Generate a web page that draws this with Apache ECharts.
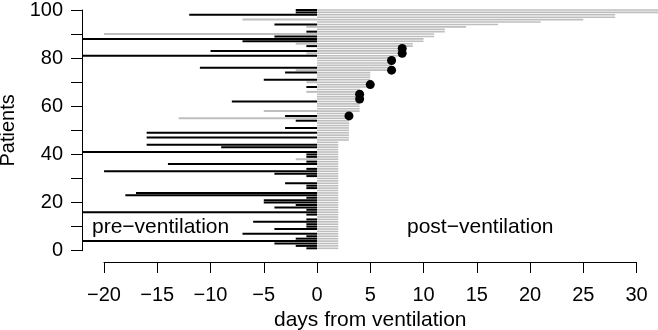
<!DOCTYPE html>
<html>
<head>
<meta charset="utf-8">
<script src="https://cdn.jsdelivr.net/npm/echarts@6/dist/echarts.min.js"></script>
<style>
  html, body { margin: 0; padding: 0; background: #fff; }
  #chart { width: 658px; height: 330px; }
</style>
</head>
<body>
<div id="chart"></div>
<script>
// patients 1..100, bottom to top
const patients = [];
for (let i = 1; i <= 100; i++) patients.push(i);

// days on ventilation (post)
const postDays = [
  2, 2, 2, 2, 2, 2, 2, 2, 2, 2,
  2, 2, 2, 2, 2, 2, 2, 2, 2, 2,
  2, 2, 2, 2, 2, 2, 2, 2, 2, 2,
  2, 2, 2, 2, 2, 2, 2, 2, 2, 2,
  2, 2, 2, 2, 2, 3, 3, 3, 3, 3,
  3, 3, 3, 3, 3, 3, 3, 4, 4, 4,
  4, 4, 4, 4, 4, 4, 4, 5, 5, 5,
  5, 5, 5, 5, 7, 7, 7, 7, 7, 7,
  8, 8, 8, 8, 9, 9, 10, 10, 11, 11,
  12, 12, 14, 17, 21, 25, 28, 28, 33, 35
];

// days before ventilation, black segments (null = none)
const preBlack = [
  -1, -2, -4, -25, -2, -1, -7, null, -4, -1,
  -1, -6, -1, null, -1, -25, -1, -4, -2, -5,
  -5, -1, -18, -17, null, -1, -1, -3, null, null,
  -1, -4, -20, -1, null, -14, -1, null, -1, -1,
  -25, null, -9, -16, null, null, -16, null, -16, null,
  -3, null, null, -2, null, -3, null, null, null, null,
  null, -8, null, null, null, null, null, -1, null, null,
  -5, null, null, -3, null, -11, null, null, null, null,
  -25, null, -10, null, -1, null, -7, -25, -4, null,
  -1, null, null, -4, null, null, null, -12, -2, -2
];

// days before ventilation, grey segments
const preGrey = [
  null, null, null, null, null, null, null, null, null, null,
  null, null, null, null, null, null, null, null, null, null,
  null, null, null, null, null, null, null, null, null, null,
  null, null, null, null, null, null, null, -2, null, null,
  null, null, null, null, null, null, null, null, null, null,
  null, null, null, null, -13, null, null, -5, null, null,
  null, null, null, null, null, -1, null, null, null, -1,
  null, null, null, null, -2, null, null, null, null, null,
  null, -1, null, null, null, -2, null, null, null, -20,
  null, null, -1, null, null, -7, null, null, null, null
];

// patients who died (dot at end of ventilation)
const died = [56, 63, 65, 69, 75, 79, 82, 84];

const xTicks = { min: -20, max: 30, step: 5 };
const yTicks = { min: 0, max: 100, step: 10, labelStep: 20 };

const FONT = 'Liberation Sans';
const GREY = '#bebebe';

function toPairs(vals) {
  const out = [];
  vals.forEach((v, i) => { if (v !== null) out.push([v, patients[i]]); });
  return out;
}

function segment(color, width) {
  return function (params, api) {
    const p = api.value(1);
    const a = api.coord([0, p]);
    const b = api.coord([api.value(0), p]);
    return {
      type: 'line',
      shape: { x1: a[0], y1: a[1], x2: b[0], y2: b[1] },
      style: { stroke: color, lineWidth: width }
    };
  };
}

const minus = v => (v < 0 ? '\u2212' + Math.abs(v) : String(v));

const chart = echarts.init(document.getElementById('chart'));

const option = {
  animation: false,
  textStyle: { fontFamily: FONT },
  grid: [
    // data area (plot region)
    { left: 82, right: 0, top: 0, bottom: 68, outerBoundsMode: 'none' },
    // axes only, spanning the tick range
    { left: 104, right: 21.5, top: 10, bottom: 79.3, outerBoundsMode: 'none' }
  ],
  xAxis: [
    { gridIndex: 0, type: 'value', min: -22.07, max: 32.02, show: false },
    {
      gridIndex: 1, type: 'value', min: xTicks.min, max: xTicks.max, interval: xTicks.step,
      offset: 11.3,
      axisLine: { show: true, onZero: false, lineStyle: { color: '#000', width: 1 } },
      axisTick: { show: true, length: 11, lineStyle: { color: '#000' } },
      axisLabel: { color: '#000', fontSize: 20, margin: 23, formatter: minus },
      splitLine: { show: false },
      name: 'days from ventilation', nameLocation: 'middle', nameGap: 47,
      nameTextStyle: { color: '#000', fontSize: 21 }
    }
  ],
  yAxis: [
    { gridIndex: 0, type: 'value', min: -4.69, max: 104.15, show: false },
    {
      gridIndex: 1, type: 'value', min: yTicks.min, max: yTicks.max, interval: yTicks.step,
      offset: 22,
      axisLine: { show: true, onZero: false, lineStyle: { color: '#000', width: 1 } },
      axisTick: { show: true, length: 11, lineStyle: { color: '#000' } },
      axisLabel: {
        color: '#000', fontSize: 20, margin: 19,
        formatter: v => (v % yTicks.labelStep === 0 ? String(v) : '')
      },
      splitLine: { show: false },
      name: 'Patients', nameLocation: 'middle', nameGap: 61, nameRotate: 90,
      nameTextStyle: { color: '#000', fontSize: 20 }
    }
  ],
  series: [
    {
      type: 'custom', xAxisIndex: 0, yAxisIndex: 0, clip: true,
      renderItem: segment(GREY, 1.6),
      encode: { x: 0, y: 1 },
      data: postDays.map((v, i) => [v, patients[i]])
    },
    {
      type: 'custom', xAxisIndex: 0, yAxisIndex: 0, clip: true,
      renderItem: segment(GREY, 2),
      encode: { x: 0, y: 1 },
      data: toPairs(preGrey)
    },
    {
      type: 'custom', xAxisIndex: 0, yAxisIndex: 0, clip: true,
      renderItem: segment('#000', 2),
      encode: { x: 0, y: 1 },
      data: toPairs(preBlack)
    },
    {
      type: 'scatter', xAxisIndex: 0, yAxisIndex: 0,
      symbol: 'circle', symbolSize: 9,
      itemStyle: { color: '#000', opacity: 1 },
      data: died.map(p => [postDays[p - 1], p])
    }
  ],
  graphic: [
    {
      type: 'text', left: 92, top: 217,
      style: { text: 'pre\u2212ventilation', fontSize: 21, fontFamily: FONT, fill: '#000' }
    },
    {
      type: 'text', left: 407, top: 217,
      style: { text: 'post\u2212ventilation', fontSize: 21, fontFamily: FONT, fill: '#000' }
    }
  ]
};

chart.setOption(option);
</script>
</body>
</html>
